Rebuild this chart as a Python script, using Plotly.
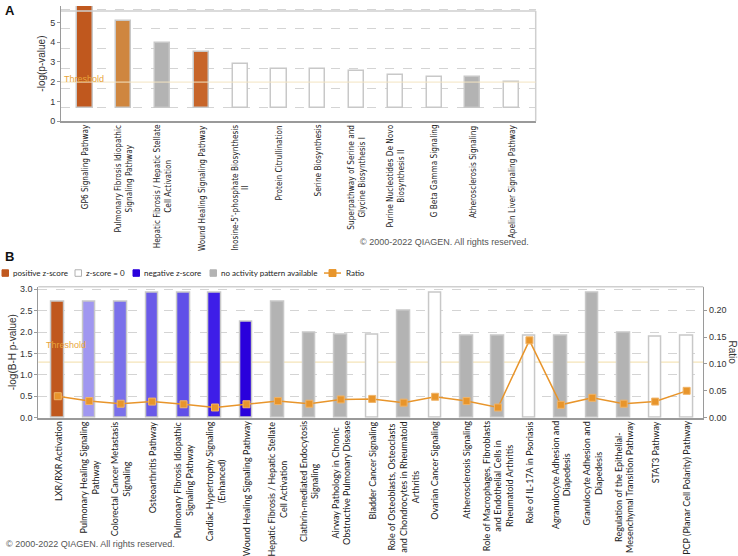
import plotly.graph_objects as go

W, H = 738, 556

# ---------------- Panel A data ----------------
a_labels = [
    "GP6 Signaling Pathway",
    "Pulmonary Fibrosis Idiopathic<br>Signaling Pathway",
    "Hepatic Fibrosis / Hepatic Stellate<br>Cell Activation",
    "Wound Healing Signaling Pathway",
    "Inosine-5'-phosphate Biosynthesis<br>II",
    "Protein Citrullination",
    "Serine Biosynthesis",
    "Superpathway of Serine and<br>Glycine Biosynthesis I",
    "Purine Nucleotides De Novo<br>Biosynthesis II",
    "G Beta Gamma Signaling",
    "Atherosclerosis Signaling",
    "Apelin Liver Signaling Pathway",
]
a_values = [5.82, 5.07, 3.95, 3.50, 2.92, 2.67, 2.67, 2.53, 2.36, 2.23, 2.23, 1.98]
a_fill = ["#c0581e", "#cf863f", "#b3b3b3", "#c7652a", "#ffffff", "#ffffff",
          "#ffffff", "#ffffff", "#ffffff", "#ffffff", "#b3b3b3", "#ffffff"]
a_base = 0.67
a_threshold = 1.98
a_ticks = [0, 1, 2, 3, 4, 5]

# ---------------- Panel B data ----------------
b_labels = [
    "LXR/RXR Activation",
    "Pulmonary Healing Signaling<br>Pathway",
    "Colorectal Cancer Metastasis<br>Signaling",
    "Osteoarthritis Pathway",
    "Pulmonary Fibrosis Idiopathic<br>Signaling Pathway",
    "Cardiac Hypertrophy Signaling<br>(Enhanced)",
    "Wound Healing Signaling Pathway",
    "Hepatic Fibrosis / Hepatic Stellate<br>Cell Activation",
    "Clathrin-mediated Endocytosis<br>Signaling",
    "Airway Pathology in Chronic<br>Obstructive Pulmonary Disease",
    "Bladder Cancer Signaling",
    "Role of Osteoblasts, Osteoclasts<br>and Chondrocytes in Rheumatoid<br>Arthritis",
    "Ovarian Cancer Signaling",
    "Atherosclerosis Signaling",
    "Role of Macrophages, Fibroblasts<br>and Endothelial Cells in<br>Rheumatoid Arthritis",
    "Role of IL-17A in Psoriasis",
    "Agranulocyte Adhesion and<br>Diapedesis",
    "Granulocyte Adhesion and<br>Diapedesis",
    "Regulation of the Epithelial-<br>Mesenchymal Transition Pathway",
    "STAT3 Pathway",
    "PCP (Planar Cell Polarity) Pathway",
]
b_values = [2.72, 2.72, 2.72, 2.92, 2.92, 2.92, 2.24, 2.72, 1.98, 1.95, 1.95,
            2.50, 2.92, 1.91, 1.91, 1.91, 1.91, 2.93, 1.98, 1.89, 1.91]
b_ratio = [0.040, 0.031, 0.026, 0.030, 0.025, 0.019, 0.025, 0.031, 0.026, 0.034,
           0.035, 0.028, 0.039, 0.031, 0.019, 0.144, 0.024, 0.037, 0.026, 0.030, 0.050]
b_fill = ["#c0581e", "#a097f0", "#7a70ea", "#6a5ae8", "#6050e8", "#3e1ee8", "#2a00dc",
          "#b3b3b3", "#b3b3b3", "#b3b3b3", "#ffffff", "#b3b3b3", "#ffffff", "#b3b3b3",
          "#b3b3b3", "#ffffff", "#b3b3b3", "#b3b3b3", "#b3b3b3", "#ffffff", "#ffffff"]
b_threshold = 1.30
b_ticks = [0.0, 0.5, 1.0, 1.5, 2.0, 2.5, 3.0]
r_ticks = [0.00, 0.05, 0.10, 0.15, 0.20]

legend_items = [
    ("positive z-score", "#c0581e"),
    ("z-score = 0", "#ffffff"),
    ("negative z-score", "#2a00dc"),
    ("no activity pattern available", "#b3b3b3"),
]

# ---------------- geometry (pixels) ----------------
def px(x):
    return x / W

def py(y):
    return 1 - y / H

A_L, A_R, A_T, A_B = 61, 535.7, 4, 120.7
A_BORDER_TOP = 9
B_L, B_R, B_T, B_B = 38.3, 703.3, 288.3, 421

a_range = [0, (A_B - A_T) / 20.0]
b_range = [0, 3.062]
r_range = [0, 0.2439]

ORANGE = "#e8952b"
BORDER = "#c8c8c8"
AXIS = "#9a9a9a"
GRID = "#d4d4d4"

fig = go.Figure()

# Panel A bars
fig.add_trace(go.Bar(
    x=list(range(len(a_labels))),
    y=[v - a_base for v in a_values],
    base=a_base,
    width=0.39,
    marker=dict(color=a_fill, line=dict(color=BORDER, width=1.5)),
    xaxis="x", yaxis="y", showlegend=False, hoverinfo="skip",
))

# Panel B bars
fig.add_trace(go.Bar(
    x=list(range(len(b_labels))),
    y=b_values,
    width=0.4,
    marker=dict(color=b_fill, line=dict(color=BORDER, width=1.5)),
    xaxis="x2", yaxis="y2", showlegend=False, hoverinfo="skip",
))

# Panel B ratio line
fig.add_trace(go.Scatter(
    x=list(range(len(b_labels))),
    y=b_ratio,
    mode="lines+markers",
    line=dict(color=ORANGE, width=1.5),
    marker=dict(symbol="square", size=7, color=ORANGE, line=dict(color="#f0b468", width=1)),
    xaxis="x2", yaxis="y3", showlegend=False, hoverinfo="skip",
))

tickfont = dict(family="Liberation Sans, Arial, sans-serif", size=9, color="#333333")
titlefont = dict(family="Liberation Sans, Arial, sans-serif", size=10, color="#333333")

fig.update_layout(
    width=W, height=H,
    margin=dict(l=0, r=0, t=0, b=0),
    paper_bgcolor="white", plot_bgcolor="white",
    bargap=0,
    xaxis=dict(
        domain=[px(A_L), px(A_R)], range=[-0.62, len(a_labels) - 1 + 0.62],
        anchor="y", showticklabels=False, showgrid=False, zeroline=False,
        showline=True, linecolor=AXIS, linewidth=2, ticks="",
    ),
    yaxis=dict(
        domain=[py(A_B), py(A_T)], range=a_range, anchor="x",
        tickvals=a_ticks, ticks="outside", ticklen=3, tickcolor=AXIS,
        tickfont=tickfont, showgrid=False, zeroline=False,
        showline=True, linecolor=AXIS, linewidth=1,
        minor=dict(tick0=a_base, dtick=1, showgrid=True, gridcolor=GRID,
                   griddash="dash", gridwidth=1, ticks=""),
        title=dict(text="-log(p-value)", font=titlefont, standoff=2),
    ),
    xaxis2=dict(
        domain=[px(B_L), px(B_R)], range=[-0.62, len(b_labels) - 1 + 0.53],
        anchor="y2", showticklabels=False, showgrid=False, zeroline=False,
        showline=True, linecolor=AXIS, linewidth=2, ticks="",
    ),
    yaxis2=dict(
        domain=[py(B_B), py(B_T)], range=b_range, anchor="x2",
        tickvals=b_ticks, tickformat=".1f", ticks="outside", ticklen=3, tickcolor=AXIS,
        tickfont=tickfont, showgrid=True, gridcolor=GRID, griddash="dash",
        zeroline=False, showline=True, linecolor=AXIS, linewidth=1,
        title=dict(text="-log(B-H p-value)", font=titlefont, standoff=1),
    ),
    yaxis3=dict(
        domain=[py(B_B), py(B_T)], range=r_range, anchor="x2", overlaying="y2",
        side="right", tickvals=r_ticks, tickformat=".2f", ticks="outside", ticklen=3,
        tickcolor=AXIS, tickfont=tickfont, showgrid=False, zeroline=False,
        showline=True, linecolor=AXIS, linewidth=1,
    ),
)

shapes = []
# Panel A borders & threshold
shapes.append(dict(type="line", xref="x domain", yref="paper", x0=0, x1=1,
                   y0=py(A_BORDER_TOP), y1=py(A_BORDER_TOP), line=dict(color="#cfcfcf", width=1.5)))
shapes.append(dict(type="line", xref="x domain", yref="paper", x0=1, x1=1,
                   y0=py(A_B), y1=py(A_BORDER_TOP), line=dict(color="#cfcfcf", width=1.5)))
shapes.append(dict(type="line", xref="x domain", yref="y", x0=0, x1=1,
                   y0=a_threshold, y1=a_threshold, line=dict(color="#f3e4c2", width=1)))
# Panel B borders & threshold
shapes.append(dict(type="line", xref="x2 domain", yref="y2 domain", x0=0, x1=1,
                   y0=1, y1=1, line=dict(color="#cfcfcf", width=1.5)))
shapes.append(dict(type="line", xref="x2 domain", yref="y2", x0=0, x1=1,
                   y0=b_threshold, y1=b_threshold, line=dict(color="#f5e4b8", width=1.2),
                   layer="below"))

annotations = []
labfontA = dict(family="Liberation Sans Narrow, DejaVu Sans Condensed, Arial Narrow, sans-serif", size=8.2, color="#222222")
labfontB = dict(family="Lato, Liberation Sans, sans-serif", size=9, color="#222222")
for i, t in enumerate(a_labels):
    annotations.append(dict(x=i, xref="x", y=py(A_B + 1.5), yref="paper", text=t,
                            textangle=-90, xanchor="center", yanchor="top", align="center",
                            showarrow=False, font=labfontA))
for i, t in enumerate(b_labels):
    annotations.append(dict(x=i, xref="x2", y=py(B_B + 1.5), yref="paper", text=t,
                            textangle=-90, xanchor="center", yanchor="top", align="center",
                            showarrow=False, font=labfontB))

thrfont = dict(family="Liberation Sans, Arial, sans-serif", size=9, color="#e8a43c")
annotations.append(dict(x=px(A_L + 1), y=py(77.5), xref="paper", yref="paper", text="Threshold",
                        xanchor="left", yanchor="middle", showarrow=False, font=thrfont))
annotations.append(dict(x=px(B_L + 6), y=py(347), xref="paper", yref="paper", text="Threshold",
                        xanchor="left", yanchor="middle", showarrow=False, font=thrfont))

copyfont = dict(family="Liberation Sans, Arial, sans-serif", size=9, color="#555555")
annotations.append(dict(x=px(531), y=py(243), xref="paper", yref="paper",
                        text="© 2000-2022 QIAGEN. All rights reserved.",
                        xanchor="right", yanchor="middle", showarrow=False, font=copyfont))
annotations.append(dict(x=px(4), y=py(549), xref="paper", yref="paper",
                        text="© 2000-2022 QIAGEN. All rights reserved.",
                        xanchor="left", yanchor="middle", showarrow=False, font=copyfont))

panelfont = dict(family="Liberation Sans, Arial, sans-serif", size=13, color="#111111")
annotations.append(dict(x=px(3), y=py(8.5), xref="paper", yref="paper", text="<b>A</b>",
                        xanchor="left", yanchor="middle", showarrow=False, font=panelfont))
annotations.append(dict(x=px(3), y=py(258), xref="paper", yref="paper", text="<b>B</b>",
                        xanchor="left", yanchor="middle", showarrow=False, font=panelfont))

annotations.append(dict(x=px(732), y=py(355), xref="paper", yref="paper", text="Ratio",
                        textangle=90, xanchor="center", yanchor="middle", showarrow=False,
                        font=titlefont))

# Manual legend for panel B
legfont = dict(family="Lato, Liberation Sans, sans-serif", size=8, color="#222222")
LEG_Y = 274.5
leg_x = [2, 75, 133, 210]
for (name, col), lx in zip(legend_items, leg_x):
    shapes.append(dict(type="rect", xref="paper", yref="paper",
                       x0=px(lx), x1=px(lx + 6.5), y0=py(LEG_Y + 3.3), y1=py(LEG_Y - 3.3),
                       fillcolor=col, line=dict(color="#b0b0b0" if col == "#ffffff" else col, width=1)))
    annotations.append(dict(x=px(lx + 8.5), y=py(LEG_Y), xref="paper", yref="paper", text=name,
                            xanchor="left", yanchor="middle", showarrow=False, font=legfont))
shapes.append(dict(type="line", xref="paper", yref="paper", x0=px(324), x1=px(341),
                   y0=py(LEG_Y), y1=py(LEG_Y), line=dict(color=ORANGE, width=1.5)))
shapes.append(dict(type="rect", xref="paper", yref="paper", x0=px(329), x1=px(336),
                   y0=py(LEG_Y + 3.5), y1=py(LEG_Y - 3.5), fillcolor=ORANGE,
                   line=dict(color=ORANGE, width=1)))
annotations.append(dict(x=px(344), y=py(LEG_Y), xref="paper", yref="paper", text="Ratio",
                        xanchor="left", yanchor="middle", showarrow=False, font=legfont))

fig.update_layout(shapes=shapes, annotations=annotations)
fig.write_html("out.html", config={"displayModeBar": False},
               post_script="document.body.style.margin='0px';document.body.style.padding='0px';document.body.style.overflow='hidden';")
